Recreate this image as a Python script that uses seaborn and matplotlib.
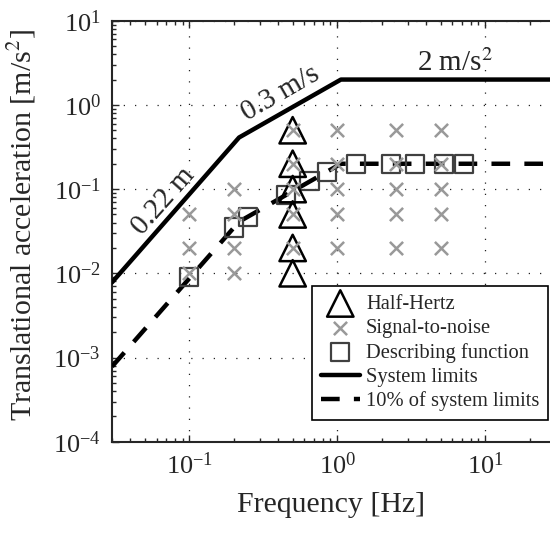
import matplotlib
matplotlib.use("Agg")
import matplotlib.pyplot as plt
import numpy as np
import pandas as pd
import seaborn as sns

# ---- data ----
hh_freq = [0.5, 0.5, 0.5, 0.5, 0.5, 0.5]
hh_acc = [0.01, 0.02, 0.05, 0.1, 0.2, 0.5]

snr_freq = [0.1, 0.1, 0.1,
            0.2, 0.2, 0.2, 0.2,
            0.5, 0.5, 0.5, 0.5, 0.5,
            1.0, 1.0, 1.0, 1.0, 1.0,
            2.5, 2.5, 2.5, 2.5, 2.5,
            5.0, 5.0, 5.0, 5.0, 5.0]
snr_acc = [0.01, 0.02, 0.05,
           0.01, 0.02, 0.05, 0.1,
           0.02, 0.05, 0.1, 0.2, 0.5,
           0.02, 0.05, 0.1, 0.2, 0.5,
           0.02, 0.05, 0.1, 0.2, 0.5,
           0.02, 0.05, 0.1, 0.2, 0.5]

df_freq = [0.1, 0.2, 0.25, 0.45, 0.65, 0.85, 1.35, 2.3, 3.35, 5.3, 7.2]
df_acc = [0.009, 0.035, 0.047, 0.085, 0.125, 0.16, 0.2, 0.2, 0.2, 0.2, 0.2]

lim_freq = [0.03, 0.217, 1.06, 30.0]
lim_acc = [0.0078, 0.41, 2.0, 2.0]
lim10_acc = [0.00078, 0.041, 0.2, 0.2]

# ---- style ----
sns.set_style("ticks")
plt.rcParams["font.family"] = ["Liberation Serif", "DejaVu Serif"]
plt.rcParams["mathtext.fontset"] = "stix"
plt.rcParams["font.size"] = 19
plt.rcParams["axes.linewidth"] = 1.5

fig = plt.figure(figsize=(5.5, 5.33), dpi=100)
W, H = 550.0, 533.0
ax = fig.add_axes([112 / W, 1 - 441.7 / H, (550 - 112) / W, 421 / H])

sns.lineplot(x=lim_freq, y=lim_acc, color="black", linewidth=3.2,
             label="System limits", ax=ax, zorder=3)
sns.lineplot(x=lim_freq, y=lim10_acc, color="black", linewidth=3.2,
             linestyle=(0, (4.2, 3.2)), label="10% of system limits",
             ax=ax, zorder=3)
sns.scatterplot(x=df_freq, y=df_acc, marker="s", s=13 ** 2,
                facecolor="none", edgecolor="#404040", linewidth=1.6,
                label="Describing function", ax=ax, zorder=4)
sns.scatterplot(x=hh_freq, y=hh_acc, marker="^", s=19 ** 2,
                facecolor="none", edgecolor="black", linewidth=1.8,
                label="Half-Hertz", ax=ax, zorder=5)
sns.scatterplot(x=snr_freq, y=snr_acc, marker="x", s=9.5 ** 2,
                color="#999999", linewidth=1.8, label="Signal-to-noise",
                ax=ax, zorder=6)

ax.set_xscale("log")
ax.set_yscale("log")
ax.set_xlim(0.03, 27.5)
ax.set_ylim(1e-4, 10)
ax.spines["right"].set_visible(False)

ax.grid(True, which="major", linestyle=(0, (1, 8)), color="#222222",
        linewidth=0.9)
ax.tick_params(which="both", direction="in", top=True, right=False,
               width=1.0, labelsize=19)
ax.tick_params(which="major", length=5, pad=8)
ax.tick_params(which="minor", length=3)
ax.xaxis.set_major_locator(matplotlib.ticker.LogLocator(base=10, numticks=10))
ax.xaxis.set_minor_locator(matplotlib.ticker.LogLocator(base=10, subs=np.arange(2, 10), numticks=20))
ax.yaxis.set_minor_locator(matplotlib.ticker.LogLocator(base=10, subs=np.arange(2, 10), numticks=20))

ax.set_xlabel("Frequency [Hz]", fontsize=21.5)
ax.set_ylabel("Translational acceleration [m/s$^2$]", fontsize=21.5)
ax.xaxis.set_label_coords(0.5, -0.12)
ax.yaxis.set_label_coords(-0.168, 0.515)

ax.text(0.0671, 0.0723, "0.22 m", rotation=48.4, ha="center", va="center",
        rotation_mode="anchor", fontsize=21)
ax.text(0.413, 1.38, "0.3 m/s", rotation=30, ha="center", va="center",
        rotation_mode="anchor", fontsize=21)
ax.text(6.27, 3.15, "2 m/s$^2$", ha="center", va="center", fontsize=21)

handles, labels = ax.get_legend_handles_labels()
order = ["Half-Hertz", "Signal-to-noise", "Describing function",
         "System limits", "10% of system limits"]
hmap = dict(zip(labels, handles))
leg = ax.legend([hmap[k] for k in order], order, loc="lower right",
                bbox_to_anchor=(548 / W, 1 - 420 / H),
                bbox_transform=fig.transFigure, borderaxespad=0,
                fontsize=14.8, frameon=True, fancybox=False, framealpha=1,
                edgecolor="black", handlelength=1.9, handletextpad=0.3,
                labelspacing=0.23, borderpad=0.42, scatterpoints=1)
leg.get_frame().set_linewidth(1.2)

fig.savefig("out.png", dpi=100)
